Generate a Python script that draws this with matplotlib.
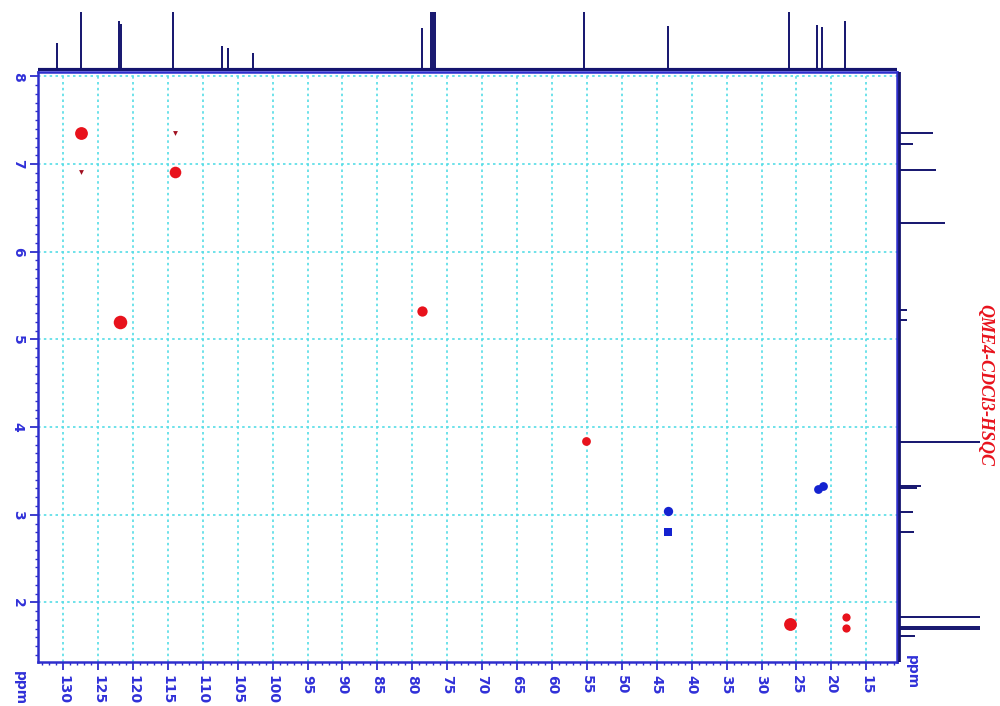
import matplotlib
matplotlib.use("Agg")
import matplotlib.pyplot as plt
from matplotlib.ticker import MultipleLocator

# 2D cross peaks (13C ppm, 1H ppm, marker size)
pos_c = [127.4, 127.4, 114.0, 114.0, 121.8, 78.6, 55.2, 25.9, 17.9, 17.9]
pos_h = [7.35, 6.91, 7.35, 6.91, 5.20, 5.32, 3.84, 1.75, 1.83, 1.71]
pos_size = [85, 12, 12, 70, 95, 55, 40, 85, 35, 35]
pos_marker = ["o", "v", "v", "o", "o", "o", "o", "o", "o", "o"]

neg_c = [43.4, 43.4, 21.9, 21.2]
neg_h = [3.04, 2.80, 3.29, 3.33]
neg_size = [45, 40, 40, 40]
neg_marker = ["o", "s", "o", "o"]

# 13C projection (ppm, relative height)
c13_ppm = [130.9, 127.4, 122.0, 121.7, 114.2, 107.2, 106.4, 102.8,
           78.6, 77.36, 77.0, 76.7, 55.4, 43.4, 26.0, 22.0, 21.3, 18.0]
c13_int = [27, 100, 49, 46, 100, 24, 22, 17,
           42, 100, 100, 100, 100, 44, 100, 45, 43, 49]

# 1H projection (ppm, relative height)
h1_ppm = [7.35, 7.23, 6.93, 6.33, 5.33, 5.22, 3.83, 3.33, 3.30,
          3.03, 2.80, 1.83, 1.72, 1.70, 1.62]
h1_int = [34, 14, 37, 45, 8, 8, 100, 22, 18, 14, 15, 100, 100, 95, 16]

sample_name = "QME4-CDCl3-HSQC"

frame_blue = "#2e2ecc"
label_blue = "#3030d8"
navy = "#14146e"
grid_cyan = "#55dde6"

fig = plt.figure(figsize=(10, 7.06), dpi=100)

ax = fig.add_axes([0.038, 0.0623, 0.859, 0.8357])
for c, h, s, m in zip(pos_c, pos_h, pos_size, pos_marker):
    col = "#e8121c" if m == "o" else "#a01020"
    ax.scatter(c, h, s=s, c=col, marker=m, linewidths=0, zorder=3)
for c, h, s, m in zip(neg_c, neg_h, neg_size, neg_marker):
    ax.scatter(c, h, s=s, c="#1422d0", marker=m, linewidths=0, zorder=3)

ax.set_xlim(133.6, 10.6)
ax.set_ylim(1.32, 8.05)
ax.xaxis.set_major_locator(MultipleLocator(5))
ax.xaxis.set_minor_locator(MultipleLocator(1))
ax.yaxis.set_major_locator(MultipleLocator(1))
ax.yaxis.set_minor_locator(MultipleLocator(0.1))
ax.grid(True, which="major", color=grid_cyan, linestyle=(0, (1.5, 2)), linewidth=1.2)
ax.set_axisbelow(True)
for sp in ax.spines.values():
    sp.set_color(frame_blue)
    sp.set_linewidth(1.8)
ax.tick_params(which="major", direction="out", length=6, width=1.3,
               color=frame_blue, labelcolor=label_blue, labelsize=10)
ax.tick_params(which="minor", direction="out", length=2.5, width=1,
               color=frame_blue)
for lab in ax.get_xticklabels():
    lab.set_rotation(-90)
    lab.set_fontweight("bold")
for lab in ax.get_yticklabels():
    lab.set_rotation(-90)
    lab.set_fontweight("bold")
    lab.set_verticalalignment("center")

# top 13C projection
axt = fig.add_axes([0.038, 0.8994, 0.859, 0.0836])
axt.vlines(c13_ppm, 0, c13_int, color=navy, linewidth=1.4)
axt.axhline(0, color=navy, linewidth=3)
axt.set_xlim(133.6, 10.6)
axt.set_ylim(-1, 58)
axt.axis("off")

# right 1H projection
axr = fig.add_axes([0.898, 0.0623, 0.082, 0.8357])
axr.hlines(h1_ppm, 0, h1_int, color=navy, linewidth=1.4)
axr.axvline(0, color=navy, linewidth=2)
axr.set_ylim(1.32, 8.05)
axr.set_xlim(-1, 80)
axr.axis("off")

fig.text(0.02, 0.025, "ppm", color=label_blue, fontsize=10, fontweight="bold",
         rotation=-90, ha="center", va="center")
fig.text(0.912, 0.048, "ppm", color=label_blue, fontsize=10, fontweight="bold",
         rotation=-90, ha="center", va="center")
fig.text(0.985, 0.455, sample_name, color="#e8121c", fontsize=13,
         fontweight="bold", style="italic", family="Liberation Serif",
         rotation=-90, ha="center", va="center")

fig.savefig("out.png", dpi=100)
